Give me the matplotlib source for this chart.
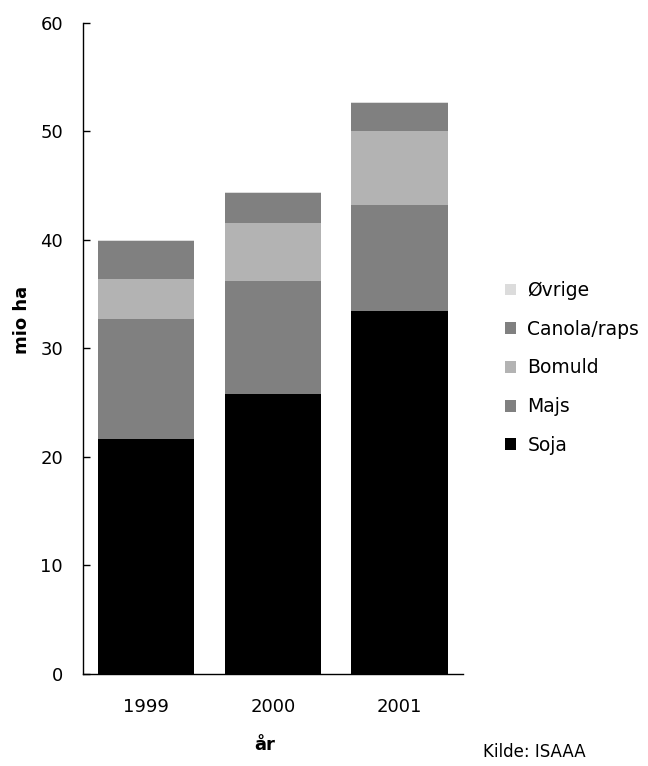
import matplotlib
matplotlib.use("Agg")
import matplotlib.pyplot as plt
import numpy as np

plt.rcParams['font.family'] = ['DejaVu Sans']

years = ["1999", "2000", "2001"]
series_names = ["Soja", "Majs", "Bomuld", "Canola/raps", "Øvrige"]
soja = [21.6, 25.8, 33.4]
majs = [11.1, 10.4, 9.8]
bomuld = [3.7, 5.3, 6.8]
canola = [3.5, 2.8, 2.6]
ovrige = [0.1, 0.1, 0.1]
colors = ["#000000", "#808080", "#b3b3b3", "#808080", "#dcdcdc"]
yticks = [0, 10, 20, 30, 40, 50, 60]

fig = plt.figure(figsize=(6.48, 7.66), dpi=100)
ax = fig.add_axes([82.5/648, 1-674/766, (463-82.5)/648, (674-22.5)/766])

x = np.arange(len(years))
bottom = np.zeros(len(years))
handles = []
for name, vals, c in zip(series_names, [soja, majs, bomuld, canola, ovrige], colors):
    b = ax.bar(x, vals, width=0.76, bottom=bottom, color=c, label=name, linewidth=0)
    handles.append(b)
    bottom += np.array(vals)

ax.set_xlim(-0.5, 2.5)
ax.set_ylim(0, 60)
ax.set_yticks(yticks)
ax.set_xticks(x)
ax.set_xticklabels(years, fontsize=13)
ax.tick_params(axis='y', direction='in', length=5, width=1, pad=14, labelsize=13)
ax.tick_params(axis='x', length=0, pad=17, labelsize=13)
for s in ['top', 'right']:
    ax.spines[s].set_visible(False)
for s in ['left', 'bottom']:
    ax.spines[s].set_linewidth(1)
    ax.spines[s].set_color('black')

fig.text(22/648, 1-320/766, "mio ha", rotation=90, fontsize=13, fontweight='bold',
         ha='center', va='center')
fig.text(265/648, 1-745/766, "år", fontsize=13, fontweight='bold', ha='center', va='center')
fig.text(483/648, 1-752/766, "Kilde: ISAAA", fontsize=12, ha='left', va='center')

leg = fig.legend(handles[::-1], series_names[::-1], loc='center left',
                 bbox_to_anchor=(505/648, 1-368/766), frameon=False, fontsize=13.5,
                 handlelength=0.6, handleheight=0.6, handletextpad=0.6,
                 labelspacing=1.05, borderpad=0, borderaxespad=0)

fig.savefig("out.png", dpi=100)
